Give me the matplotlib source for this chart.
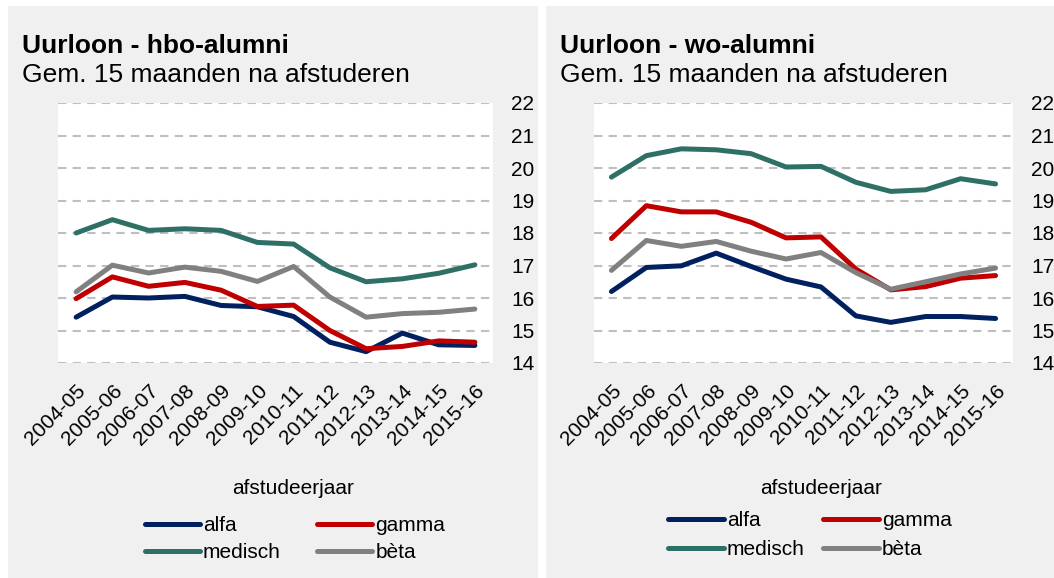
import matplotlib
matplotlib.use("Agg")
import matplotlib.pyplot as plt
from matplotlib.patches import Rectangle

plt.rcParams["font.family"] = ["Liberation Sans", "DejaVu Sans"]

# data (uurloon in euro)
years = ["2004-05", "2005-06", "2006-07", "2007-08", "2008-09", "2009-10",
         "2010-11", "2011-12", "2012-13", "2013-14", "2014-15", "2015-16"]

hbo_alfa = [15.41, 16.03, 16.00, 16.05, 15.77, 15.73, 15.43, 14.64, 14.35, 14.92, 14.56, 14.54]
hbo_gamma = [15.98, 16.65, 16.36, 16.48, 16.24, 15.74, 15.78, 15.00, 14.44, 14.51, 14.68, 14.64]
hbo_medisch = [18.00, 18.41, 18.08, 18.13, 18.08, 17.71, 17.66, 16.93, 16.50, 16.59, 16.76, 17.02]
hbo_beta = [16.19, 17.01, 16.77, 16.95, 16.82, 16.51, 16.97, 16.03, 15.41, 15.52, 15.56, 15.66]

wo_alfa = [16.20, 16.94, 16.99, 17.38, 16.97, 16.58, 16.34, 15.45, 15.25, 15.43, 15.43, 15.37]
wo_gamma = [17.83, 18.84, 18.65, 18.65, 18.33, 17.85, 17.88, 16.89, 16.25, 16.35, 16.61, 16.69]
wo_medisch = [19.72, 20.38, 20.59, 20.56, 20.44, 20.03, 20.05, 19.56, 19.28, 19.33, 19.67, 19.51]
wo_beta = [16.85, 17.77, 17.59, 17.74, 17.44, 17.20, 17.40, 16.78, 16.27, 16.50, 16.74, 16.92]

groups = ["alfa", "gamma", "medisch", "bèta"]
colors = {"alfa": "#002060", "gamma": "#c00000", "medisch": "#2e7066", "bèta": "#808080"}

W, H = 1054, 578
fig = plt.figure(figsize=(W / 100, H / 100), dpi=100)
fig.patch.set_facecolor("white")


def px_box(x0, y0, x1, y1):
    # pixel box (top-left origin) -> figure fraction rect
    return [x0 / W, 1 - y1 / H, (x1 - x0) / W, (y1 - y0) / H]


# grey panel backgrounds
for x0, x1 in [(8, 538), (546, 1054)]:
    fig.patches.append(Rectangle((x0 / W, 0), (x1 - x0) / W, 1 - 6 / H,
                                 transform=fig.transFigure, facecolor="#f0f0f0",
                                 edgecolor="none", zorder=-5))

panels = [
    ("Uurloon - hbo-alumni", (58, 493), 22,
     [hbo_alfa, hbo_gamma, hbo_medisch, hbo_beta], 293, (295, 539), 1.75, 0.4),
    ("Uurloon - wo-alumni", (594, 1013), 560,
     [wo_alfa, wo_gamma, wo_medisch, wo_beta], 821, (810, 535), 0.9, 0.5),
]

for title, (ax0, ax1), tx, series, xlab_x, (lx, ly), colsp, lsp in panels:
    ax = fig.add_axes(px_box(ax0, 103, ax1, 363))
    ax.set_facecolor("white")
    handles = {}
    for name, vals in zip(groups, series):
        h, = ax.plot(range(len(years)), vals, color=colors[name], lw=3.6,
                     solid_capstyle="round", solid_joinstyle="round", label=name)
        handles[name] = h
    ax.set_xlim(-0.5, len(years) - 0.5)
    ax.set_ylim(14, 22)
    ax.set_yticks(range(14, 23))
    ax.yaxis.tick_right()
    ax.set_xticks(range(len(years)))
    ax.set_xticklabels(years, rotation=45, ha="right", va="top",
                       rotation_mode="anchor", fontsize=15)
    ax.tick_params(axis="both", length=0, labelsize=15)
    ax.tick_params(axis="y", pad=13)
    ax.tick_params(axis="x", pad=13)
    ax.grid(axis="y", color="#bfbfbf", lw=1.5, ls=(0, (4, 3)))
    ax.set_axisbelow(True)
    for s in ax.spines.values():
        s.set_visible(False)

    fig.text(tx / W, 1 - 53 / H, title, fontsize=19, fontweight="bold",
             ha="left", va="baseline")
    fig.text(tx / W, 1 - 82 / H, "Gem. 15 maanden na afstuderen", fontsize=19,
             ha="left", va="baseline")
    fig.text(xlab_x / W, 1 - 488 / H, "afstudeerjaar", fontsize=15,
             ha="center", va="center")

    # legend fills column-wise: alfa/medisch left, gamma/bèta right
    order = ["alfa", "medisch", "gamma", "bèta"]
    fig.legend([handles[n] for n in order], order, loc="center",
               bbox_to_anchor=(lx / W, 1 - ly / H),
               ncol=2, frameon=False, fontsize=15, handlelength=2.65,
               handletextpad=0.15, columnspacing=colsp, labelspacing=lsp,
               borderpad=0)

fig.savefig("out.png", dpi=100, facecolor="white")
